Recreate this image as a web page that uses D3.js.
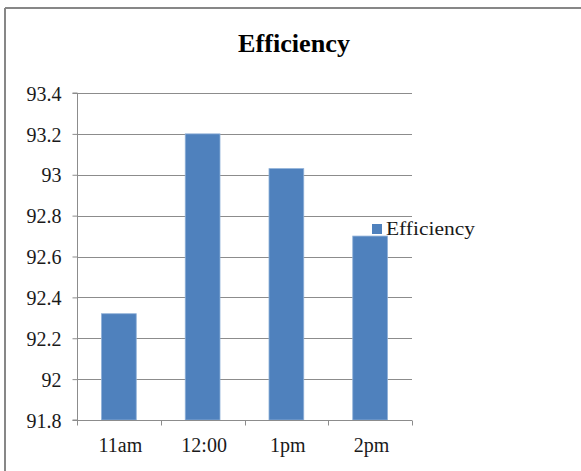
<!DOCTYPE html>
<html>
<head>
<meta charset="utf-8">
<script src="https://cdn.jsdelivr.net/npm/d3@7"></script>
<style>
  html, body { margin: 0; padding: 0; background: #fff; }
  svg text { font-family: "Liberation Serif", "Times New Roman", Times, "DejaVu Serif", serif !important; }
</style>
</head>
<body>
<svg id="chart" width="581" height="471"></svg>
<script>
const categories = ["11am", "12:00", "1pm", "2pm"];
const efficiency = [92.32, 93.2, 93.03, 92.7];
const yTicks = [91.8, 92, 92.2, 92.4, 92.6, 92.8, 93, 93.2, 93.4];
const seriesName = "Efficiency";
const titleText = "Efficiency";

const svg = d3.select("#chart");
const W = 581, H = 471;
const m = { left: 77, right: 412, top: 93, bottom: 420 };

svg.append("rect").attr("x", 0).attr("y", 0).attr("width", W).attr("height", H).attr("fill", "#fff");
// frame (top and left edges visible)
svg.append("line").attr("x1", 5).attr("x2", W).attr("y1", 8).attr("y2", 8).attr("stroke", "#878787").attr("stroke-width", 2);
svg.append("line").attr("x1", 5).attr("x2", 5).attr("y1", 8).attr("y2", H).attr("stroke", "#878787").attr("stroke-width", 2);

const x = d3.scaleBand().domain(categories).range([m.left, m.right]).paddingInner(0.585).paddingOuter(0.2925);
const y = d3.scaleLinear().domain([91.8, 93.4]).range([m.bottom, m.top]);

// gridlines
svg.append("g").selectAll("line").data(yTicks.slice(1)).join("line")
  .attr("x1", m.left).attr("x2", m.right)
  .attr("y1", d => Math.round(y(d)) + 0.5).attr("y2", d => Math.round(y(d)) + 0.5)
  .attr("stroke", "#8c8c8c").attr("stroke-width", 1);

// bars
svg.append("g").selectAll("rect").data(efficiency).join("rect")
  .attr("x", (d, i) => x(categories[i]))
  .attr("width", x.bandwidth())
  .attr("y", d => y(d))
  .attr("height", d => y(91.8) - y(d))
  .attr("fill", "#4F81BD")
  .attr("stroke", "#8fb0d8").attr("stroke-width", 0.8);

// y axis
const yAxis = d3.axisLeft(y).tickValues(yTicks).tickSize(5).tickPadding(11).tickFormat(d => d3.format("")(+d.toFixed(1)));
const gy = svg.append("g").attr("transform", `translate(${m.left + 0.5},0)`).call(yAxis);
gy.select(".domain").attr("stroke", "#8c8c8c").attr("d", `M-5,${m.bottom}H0V${m.top}H-5`);
gy.selectAll(".tick line").attr("stroke", "#8c8c8c");
gy.selectAll(".tick text").attr("font-size", 20).attr("fill", "#1a1a1a").attr("dy", "0.36em");

// x axis
const xAxis = d3.axisBottom(x).tickSize(0).tickPadding(17);
const gx = svg.append("g").attr("transform", `translate(0,${m.bottom + 0.5})`).call(xAxis);
gx.select(".domain").attr("stroke", "#8c8c8c").attr("d", `M${m.left},0H${m.right}`);
gx.selectAll(".tick text").attr("font-size", 20).attr("fill", "#1a1a1a").attr("dx", 1.5);
// category boundary ticks
const bounds = d3.range(categories.length + 1).map(i => m.left + i * (m.right - m.left) / categories.length);
gx.selectAll(".bt").data(bounds).join("line").attr("class", "bt")
  .attr("x1", d => Math.round(d) + 0.5).attr("x2", d => Math.round(d) + 0.5)
  .attr("y1", 0).attr("y2", 5).attr("stroke", "#8c8c8c");

// title
svg.append("text").attr("x", 294).attr("y", 52).attr("text-anchor", "middle")
  .attr("font-size", 25).attr("font-weight", "bold").attr("fill", "#000")
  .attr("textLength", 112).attr("lengthAdjust", "spacingAndGlyphs").text(titleText);

// legend
svg.append("rect").attr("x", 372).attr("y", 224).attr("width", 10).attr("height", 10).attr("fill", "#4F81BD");
svg.append("text").attr("x", 386).attr("y", 235).attr("font-size", 19.5).attr("fill", "#1a1a1a")
  .attr("textLength", 89).attr("lengthAdjust", "spacingAndGlyphs").text(seriesName);
</script>
</body>
</html>
